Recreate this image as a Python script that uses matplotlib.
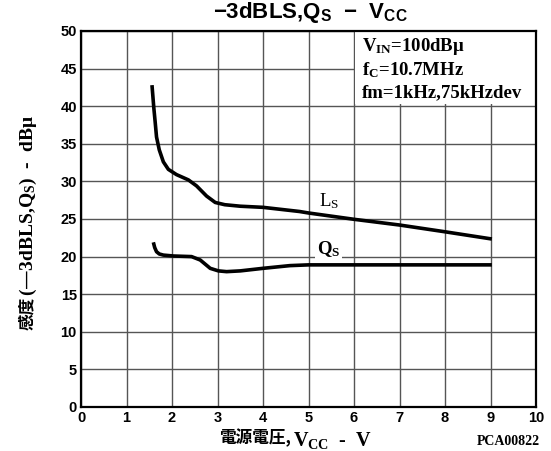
import numpy as np
import matplotlib.pyplot as plt
from matplotlib.patches import Rectangle

plt.rcParams['mathtext.default'] = 'regular'

# Ls curve (-3dB limiting sensitivity) vs supply voltage
ls_vcc = [1.56, 1.58, 1.60, 1.63, 1.66, 1.72, 1.81, 1.92, 2.10, 2.36, 2.54, 2.76, 2.95, 3.16, 3.5, 4.0, 4.8, 5.0, 6.0, 7.0, 8.0, 9.03]
ls_db = [42.8, 41.3, 39.8, 37.9, 35.9, 34.2, 32.6, 31.6, 30.9, 30.2, 29.4, 28.05, 27.2, 26.9, 26.7, 26.55, 26.0, 25.8, 24.96, 24.2, 23.3, 22.34]

# Qs curve vs supply voltage
qs_vcc = [1.59, 1.62, 1.66, 1.72, 1.81, 2.03, 2.43, 2.62, 2.84, 3.02, 3.2, 3.5, 4.0, 4.59, 5.0, 6.0, 7.0, 8.0, 9.03]
qs_db = [21.9, 21.2, 20.65, 20.35, 20.2, 20.08, 20.0, 19.55, 18.44, 18.1, 18.0, 18.1, 18.44, 18.8, 18.9, 18.9, 18.9, 18.9, 18.9]

xticks = list(range(0, 11))
yticks = list(range(0, 55, 5))

cond_lines = ['$V_{IN}$=100dBμ', '$f_C$=10.7MHz', 'fm=1kHz,75kHzdev']

serif = ['Liberation Serif', 'DejaVu Serif']
jp = 'Noto Sans CJK JP'

fig = plt.figure(figsize=(5.51, 4.51), dpi=100)
ax = fig.add_axes([81 / 551, 1 - 407 / 451, 455 / 551, 376 / 451])

ax.set_xlim(0, 10)
ax.set_ylim(0, 50)
ax.set_xticks(xticks)
ax.set_yticks(yticks)
ax.grid(True, color='#555555', lw=1.0)
ax.tick_params(length=0, pad=3)
for lab in ax.get_xticklabels() + ax.get_yticklabels():
    lab.set_fontfamily('Liberation Sans')
    lab.set_fontweight('bold')
    lab.set_fontsize(10.5)
for sp in ax.spines.values():
    sp.set_linewidth(1.6)

ax.plot(ls_vcc, ls_db, color='black', lw=2.6, solid_capstyle='butt', solid_joinstyle='round')
ax.plot(qs_vcc, qs_db, color='black', lw=2.6, solid_capstyle='butt', solid_joinstyle='round')

# white box for the test conditions
ax.add_patch(Rectangle((6.03, 40.3), 3.95, 9.65, facecolor='white', edgecolor='none', zorder=2))
for i, t in enumerate(cond_lines):
    ax.text(6.18, 47.9 - i * 3.05, t, family=serif, fontsize=13.5, fontweight='bold',
            va='center', ha='left', zorder=3)

ax.text(5.23, 27.4, '$L_S$', family=serif, fontsize=13.5, va='center', ha='left', zorder=3)
ax.text(5.18, 21.0, '$Q_S$', family=serif, fontsize=13.5, fontweight='bold', va='center', ha='left',
        zorder=3, bbox=dict(facecolor='white', edgecolor='none', pad=1.5))

fig.text(0.563, 0.972, '−3dBLS,$Q_S$  −  $V_{CC}$', family='Liberation Sans', fontweight='bold',
         fontsize=16, ha='center', va='center')

# axis labels: the Japanese part and the mathtext part are separate texts
fig.text(0.528, 0.028, '電源電圧,', family=jp, fontweight='bold', fontsize=12,
         ha='right', va='center')
fig.text(0.531, 0.024, '$V_{CC}$  -  V', family=serif, fontweight='bold', fontsize=14.5,
         ha='left', va='center')
fig.text(0.922, 0.022, 'PCA00822', family=serif, fontweight='bold', fontsize=10,
         ha='center', va='center')

fig.text(0.049, 0.341, '感度', family=jp, fontweight='bold', fontsize=12,
         rotation=90, ha='center', va='top')
fig.text(0.051, 0.343, '(—3dBLS,$Q_S$)  -  dBμ', family=serif, fontweight='bold', fontsize=14,
         rotation=90, ha='center', va='bottom')

fig.savefig('out.png', dpi=100)
